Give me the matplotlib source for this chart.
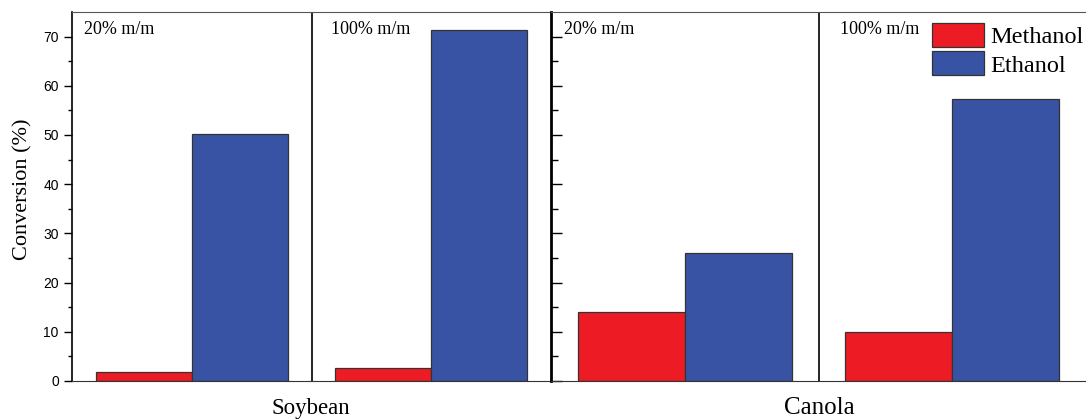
import numpy as np
import matplotlib.pyplot as plt
from matplotlib.ticker import MultipleLocator, FixedLocator

plt.rcParams['font.family'] = ['Liberation Sans', 'DejaVu Sans']

# conversion (%) for each oil, catalyst loading and alcohol
oils        = ["Soybean", "Canola"]
loadings    = ["20% m/m", "100% m/m"]
methanol    = {"Soybean": [1.8, 2.6], "Canola": [14.0, 10.0]}
ethanol     = {"Soybean": [50.3, 71.3], "Canola": [26.0, 57.4]}

red  = "#ED1C24"
blue = "#3953A4"
serif = ['Liberation Serif', 'DejaVu Serif']

fig = plt.figure(figsize=(10.86, 4.2), dpi=100)
bottom, top = 0.093, 0.9714
ax_s = fig.add_axes([0.0663, bottom, 0.5074 - 0.0663, top - bottom])
ax_c = fig.add_axes([0.5074, bottom, 1.0 - 0.5074, top - bottom])

x = np.arange(len(loadings))
w = 0.4
for ax, oil in zip([ax_s, ax_c], oils):
    ax.bar(x + 0.3, methanol[oil], width=w, color=red, edgecolor="#333333", linewidth=0.9, label="Methanol")
    ax.bar(x + 0.7, ethanol[oil], width=w, color=blue, edgecolor="#333333", linewidth=0.9, label="Ethanol")
    ax.axvline(1.0, color="black", linewidth=1.2)
    ax.set_xlim(0, 2)
    ax.set_ylim(0, 75)
    ax.set_xticks([])
    ax.yaxis.set_major_locator(MultipleLocator(10))
    # minor ticks between the labelled ones, none on the top edge
    ax.yaxis.set_minor_locator(FixedLocator(np.arange(5, 70, 10)))
    ax.spines['right'].set_visible(False)
    ax.spines['top'].set_color("#555555")
    ax.spines['bottom'].set_color("#333333")
    for i, lab in enumerate(loadings):
        ax.text(i + (0.05 if i == 0 else 0.08), 71.5, lab, family=serif, fontsize=13,
                va='center', ha='left')

ax_s.spines['left'].set_linewidth(1.2)
ax_s.tick_params(axis='y', which='major', direction='out', length=6, width=1, labelsize=10)
ax_s.tick_params(axis='y', which='minor', direction='out', length=3, width=1)
ax_s.set_ylabel("Conversion (%)", family=serif, fontsize=16)
ax_s.yaxis.set_label_coords(-0.083, 0.52)

ax_c.spines['left'].set_linewidth(2)
ax_c.tick_params(axis='y', which='major', direction='in', length=8, width=1, labelleft=False)
ax_c.tick_params(axis='y', which='minor', direction='in', length=5, width=1)

fig.text(0.2865, 0.028, oils[0], family=serif, fontsize=16.5, ha='center', va='center')
fig.text(0.754, 0.029, oils[1], family=serif, fontsize=18, ha='center', va='center')

ax_c.legend(loc='upper left', bbox_to_anchor=(932 / 1086, 1 - 23 / 420), bbox_transform=fig.transFigure,
            frameon=False, prop={'family': serif, 'size': 17.5}, borderpad=0, borderaxespad=0,
            handlelength=2.15, handleheight=1.15, handletextpad=0.25, labelspacing=0.12)

fig.savefig("out.png", dpi=100)
